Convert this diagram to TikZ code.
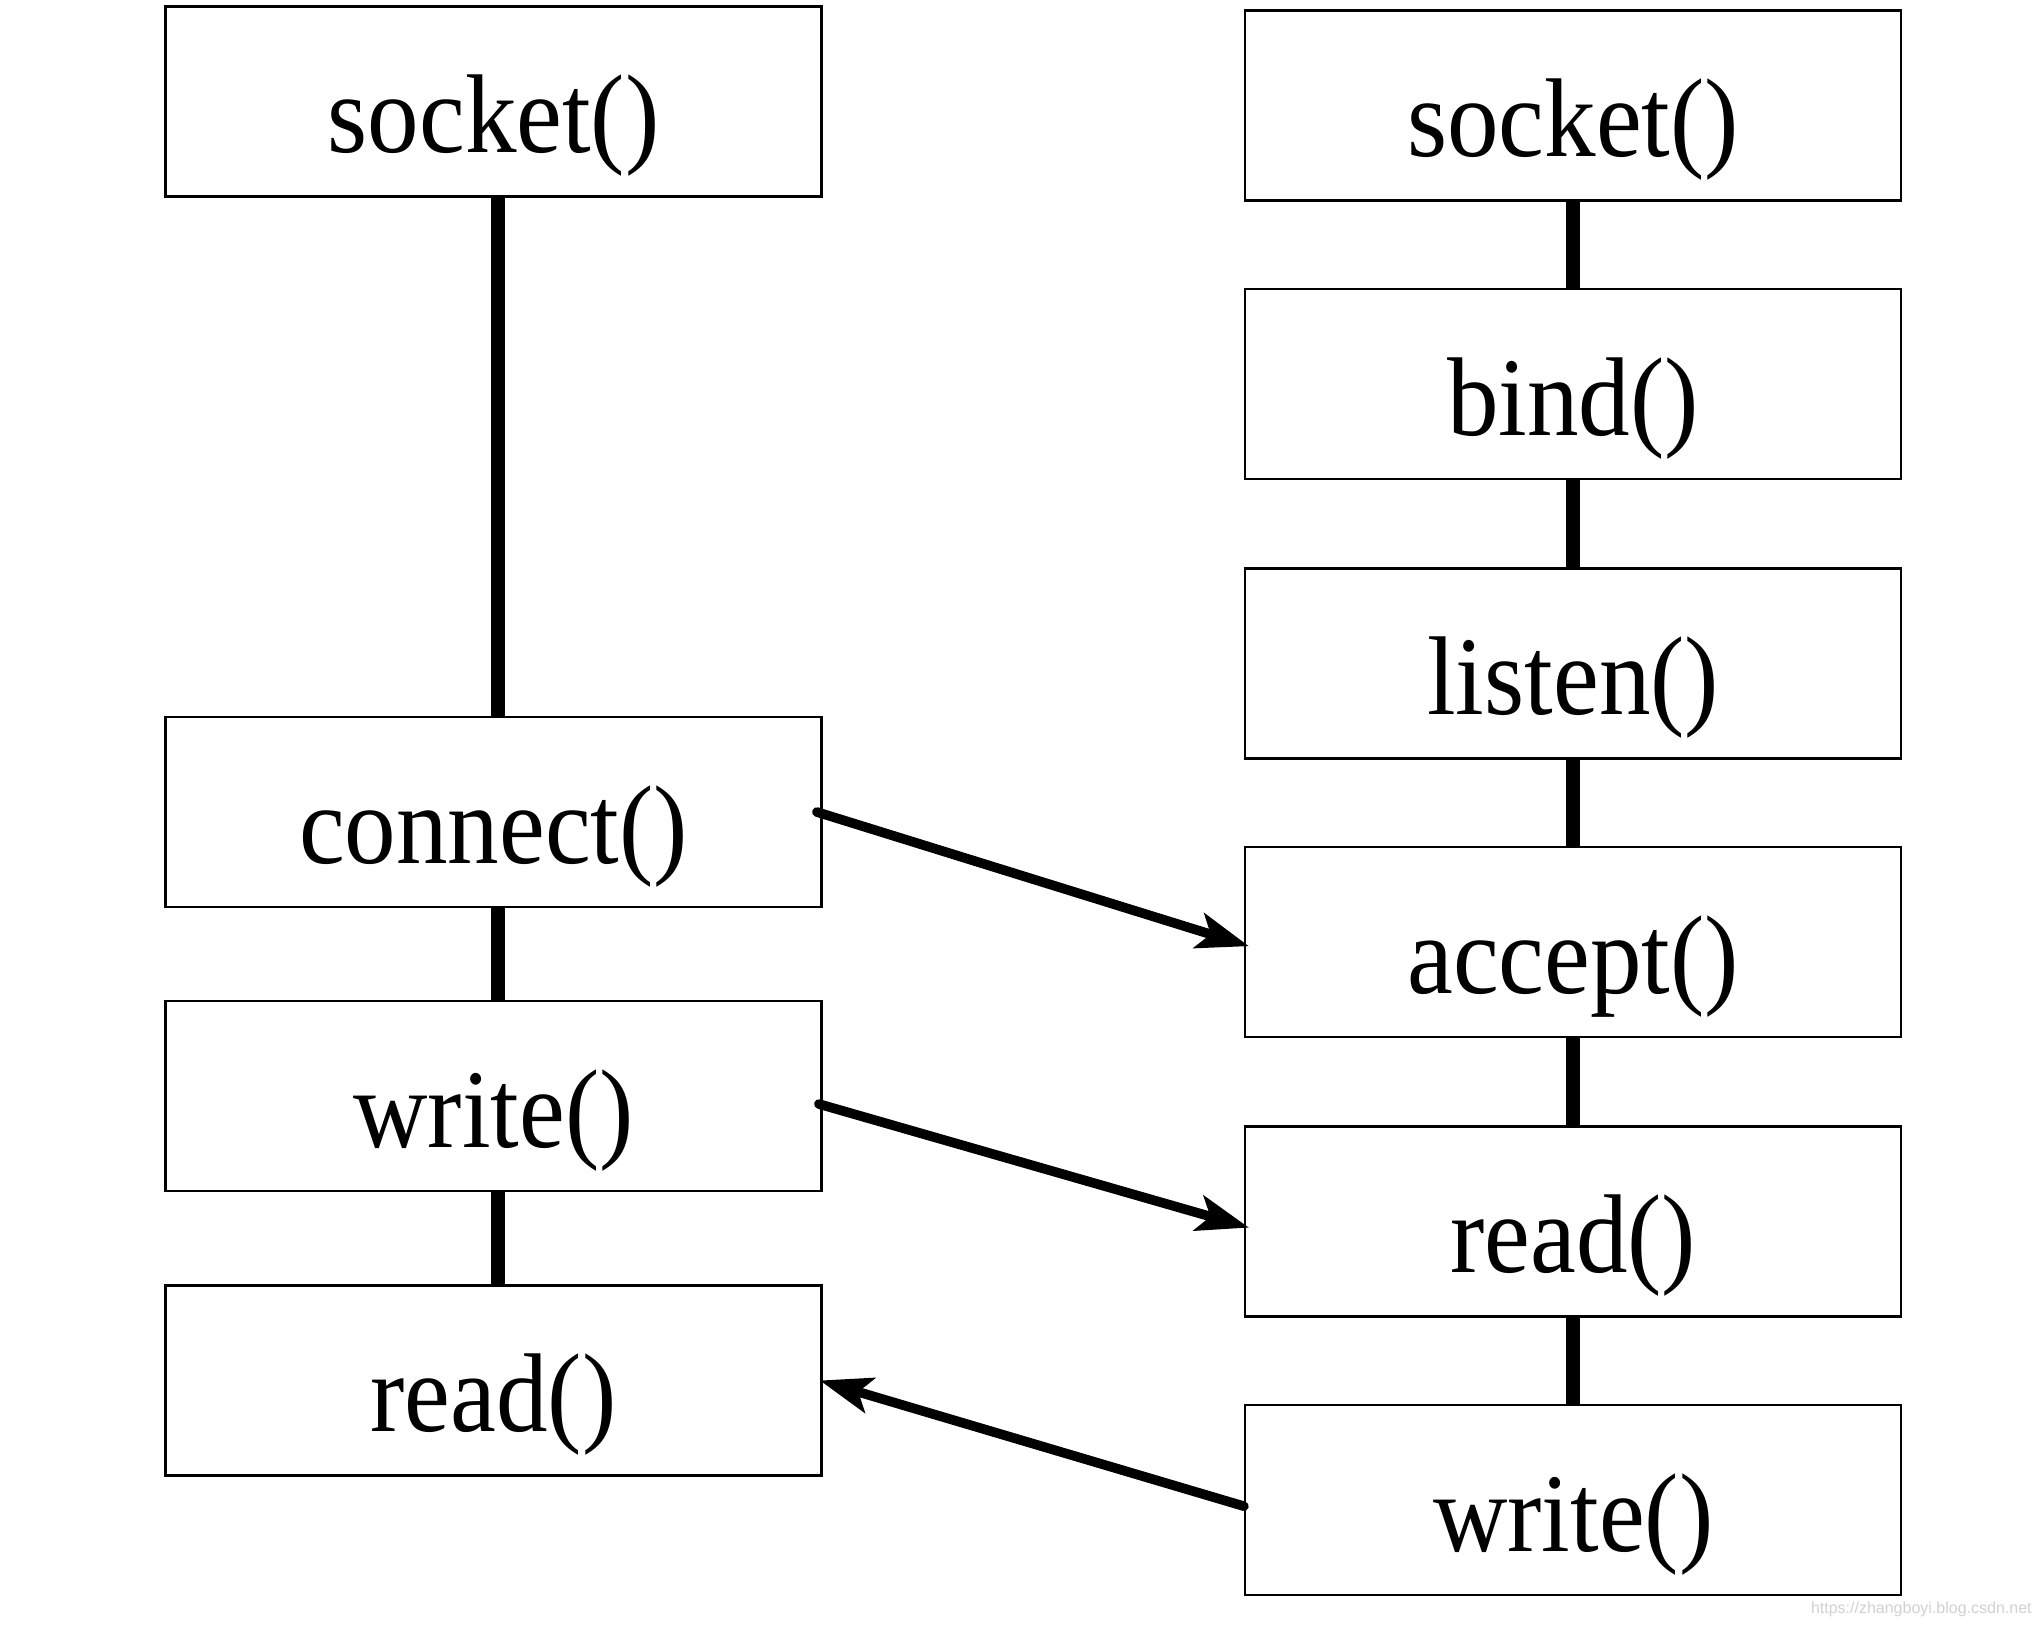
\documentclass[tikz,border=0pt]{standalone}
\usepackage{fontspec}
\setmainfont{Liberation Serif}
\newfontfamily\boxfont[FakeStretch=0.92]{Liberation Serif}
\newfontfamily\wmfont{Liberation Sans}
\usetikzlibrary{arrows.meta}
\tikzset{
  fnbox/.style={draw=black, line width=1.25pt, rectangle, inner sep=0pt,
    minimum width=328pt, minimum height=95pt,
    text height=51pt, text depth=0pt,
    font=\boxfont\fontsize{56}{60}\selectfont},
  flow/.style={line width=7pt, draw=black},
  msg/.style={line width=4.8pt, draw=black, line cap=round,
    -{Stealth[length=26pt,width=18pt,inset=6pt]}}
}
\begin{document}
\begin{tikzpicture}[x=0.5pt,y=-0.5pt]
\useasboundingbox[fill=white] (0,0) rectangle (2042,1626);
% client (left)
\node[fnbox] (csock) at (493.6,101.5) {socket()};
\node[fnbox] (cconn) at (493.6,812) {connect()};
\node[fnbox] (cwrite) at (493.6,1096) {write()};
\node[fnbox] (cread) at (493.6,1380.5) {read()};
% server (right)
\node[fnbox] (ssock) at (1573.2,105.5) {socket()};
\node[fnbox] (sbind) at (1573.2,384.2) {bind()};
\node[fnbox] (slisten) at (1573.2,663.5) {listen()};
\node[fnbox] (saccept) at (1573.2,942.2) {accept()};
\node[fnbox] (sread) at (1573.2,1221.6) {read()};
\node[fnbox] (swrite) at (1573.2,1500.2) {write()};
% vertical flow
\draw[flow] ([xshift=2pt]csock.south) -- ([xshift=2pt]cconn.north);
\draw[flow] ([xshift=2pt]cconn.south) -- ([xshift=2pt]cwrite.north);
\draw[flow] ([xshift=2pt]cwrite.south) -- ([xshift=2pt]cread.north);
\draw[flow] (ssock.south) -- (sbind.north);
\draw[flow] (sbind.south) -- (slisten.north);
\draw[flow] (slisten.south) -- (saccept.north);
\draw[flow] (saccept.south) -- (sread.north);
\draw[flow] (sread.south) -- (swrite.north);
% messages
\draw[msg] ([xshift=-3pt]cconn.east) -- ([xshift=2.5pt,yshift=-2pt]saccept.west);
\draw[msg] ([xshift=-2pt,yshift=-4pt]cwrite.east) -- ([xshift=2.5pt,yshift=-3pt]sread.west);
\draw[msg] ([yshift=-3pt]swrite.west) -- ([xshift=-1.5pt]cread.east);
% watermark
\node[anchor=base east, text=black!18, font=\wmfont\fontsize{8}{9}\selectfont, inner sep=0pt] (wm) at (2032,1613) {https://zhangboyi.blog.csdn.net};
\end{tikzpicture}
\end{document}
